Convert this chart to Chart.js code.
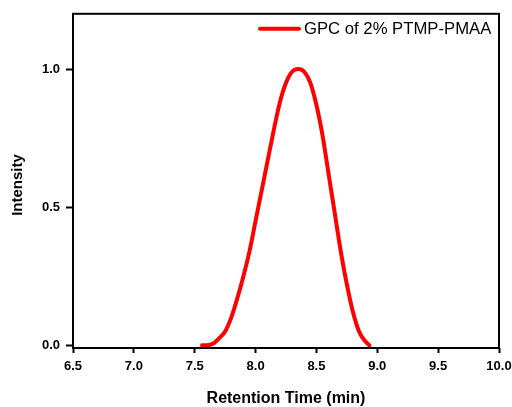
<!DOCTYPE html>
<html>
<head>
<meta charset="utf-8">
<script src="https://cdn.jsdelivr.net/npm/chart.js@4"></script>
<style>
  html, body { margin: 0; padding: 0; background: #fff; }
  #wrap { width: 512px; height: 407px; position: relative; }
</style>
</head>
<body>
<div id="wrap"><canvas id="gpc"></canvas></div>
<script>
// GPC trace
const retentionTime = [7.56, 7.60, 7.65, 7.70, 7.75, 7.80, 7.85, 7.90, 7.95, 8.00,
                       8.05, 8.10, 8.15, 8.20, 8.25, 8.30, 8.35, 8.40, 8.45, 8.50,
                       8.55, 8.60, 8.65, 8.70, 8.75, 8.80, 8.85, 8.90, 8.935];
const intensity = [0.0, 0.0, 0.005, 0.025, 0.05, 0.10, 0.17, 0.25, 0.34, 0.45,
                   0.56, 0.67, 0.78, 0.88, 0.95, 0.99, 1.00, 0.99, 0.95, 0.87,
                   0.76, 0.62, 0.48, 0.34, 0.22, 0.12, 0.05, 0.015, 0.0];
const xTicks = [6.5, 7.0, 7.5, 8.0, 8.5, 9.0, 9.5, 10.0];
const yTicks = [0.0, 0.5, 1.0];
const seriesLabel = 'GPC of 2% PTMP-PMAA';

const FONT = "'Liberation Sans', Arial, sans-serif";

// box around the plot + legend line in the top right corner
const framePlugin = {
    id: 'frame',
    afterDraw(chart) {
        const { ctx, chartArea: a } = chart;
        ctx.save();
        ctx.strokeStyle = '#000';
        ctx.lineWidth = 2;
        ctx.strokeRect(a.left, a.top, a.right - a.left, a.bottom - a.top);

        // legend
        ctx.strokeStyle = '#ff0000';
        ctx.lineWidth = 4;
        ctx.lineCap = 'round';
        ctx.beginPath();
        ctx.moveTo(a.left + 187, a.top + 15);
        ctx.lineTo(a.left + 226, a.top + 15);
        ctx.stroke();
        ctx.fillStyle = '#000';
        ctx.font = '16.7px ' + FONT;
        ctx.textBaseline = 'middle';
        ctx.textAlign = 'left';
        ctx.fillText(seriesLabel, a.left + 231, a.top + 16);
        ctx.restore();

        // y title, drawn by hand so it sits where the original has it
        ctx.save();
        ctx.translate(18, 185);
        ctx.rotate(-Math.PI / 2);
        ctx.fillStyle = '#000';
        ctx.font = 'bold 15px ' + FONT;
        ctx.textAlign = 'center';
        ctx.textBaseline = 'middle';
        ctx.fillText('Intensity', 0, 0);
        ctx.restore();
    }
};

new Chart(document.getElementById('gpc'), {
    type: 'line',
    data: {
        datasets: [{
            label: seriesLabel,
            data: retentionTime.map((t, i) => ({ x: t, y: intensity[i] })),
            borderColor: '#ff0000',
            borderWidth: 4,
            borderCapStyle: 'round',
            borderJoinStyle: 'round',
            pointRadius: 0,
            cubicInterpolationMode: 'monotone',
            fill: false
        }]
    },
    options: {
        responsive: true,
        maintainAspectRatio: false,
        animation: false,
        layout: { padding: { top: 13, right: 13, left: 0, bottom: 0 } },
        plugins: {
            legend: { display: false },
            tooltip: { enabled: false }
        },
        scales: {
            x: {
                type: 'linear',
                min: 6.5,
                max: 10.0,
                afterBuildTicks: axis => { axis.ticks = xTicks.map(v => ({ value: v })); },
                afterFit: axis => {
                    axis.height = 59;
                    axis.paddingLeft = 0;
                    axis.paddingRight = 0;
                },
                border: { display: false },
                grid: {
                    drawOnChartArea: false,
                    drawTicks: true,
                    tickLength: 5,
                    tickWidth: 2,
                    tickColor: '#000'
                },
                ticks: {
                    color: '#000',
                    font: { family: FONT, size: 13, weight: 'bold' },
                    padding: 6,
                    maxRotation: 0,
                    callback: v => v.toFixed(1)
                },
                title: {
                    display: true,
                    text: 'Retention Time (min)',
                    color: '#000',
                    font: { family: FONT, size: 16, weight: 'bold', lineHeight: 1.0 },
                    padding: { top: 0, bottom: 0 }
                }
            },
            y: {
                type: 'linear',
                min: -0.01,
                max: 1.2,
                afterBuildTicks: axis => { axis.ticks = yTicks.map(v => ({ value: v })); },
                afterFit: axis => { axis.width = 73; },
                border: { display: false },
                grid: {
                    drawOnChartArea: false,
                    drawTicks: true,
                    tickLength: 7,
                    tickWidth: 2,
                    tickColor: '#000'
                },
                ticks: {
                    color: '#000',
                    font: { family: FONT, size: 13, weight: 'bold' },
                    padding: 6,
                    callback: v => v.toFixed(1)
                },
                title: { display: false }
            }
        }
    },
    plugins: [framePlugin]
});
</script>
</body>
</html>
